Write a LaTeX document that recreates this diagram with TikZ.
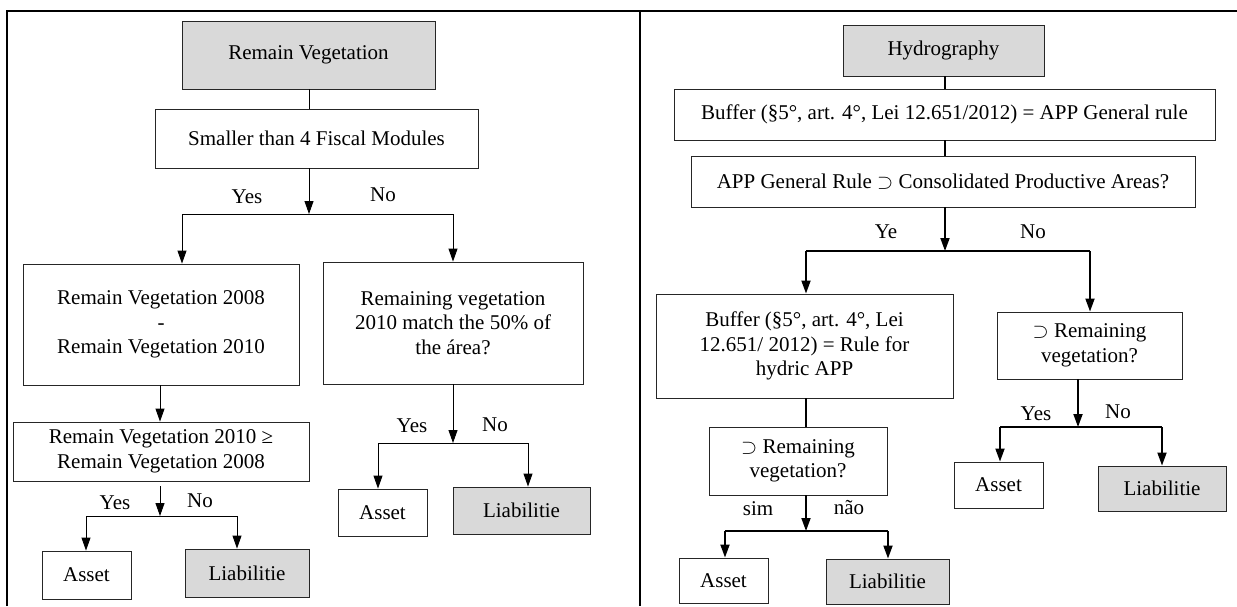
\documentclass[tikz,border=0pt]{standalone}
\usepackage{fontspec}
\setmainfont{Liberation Serif}
\usetikzlibrary{arrows.meta}
\tikzset{
  box/.style={draw=black!85, line width=0.9pt, inner sep=0pt, align=center, fill=white,
    font=\fontsize{21}{24.5}\selectfont},
  gbox/.style={box, fill=gray!30},
  lbl/.style={inner sep=0pt, font=\fontsize{21}{24.5}\selectfont},
  thin/.style={line width=0.9pt},
  thick2/.style={line width=1.8pt},
  arr/.style={-{Triangle[length=13pt,width=9pt]}},
  frame/.style={line width=2pt}
}
\begin{document}
\begin{tikzpicture}[x=1pt,y=-1pt]
\useasboundingbox (0,0) rectangle (1237,606);
% frame
\coordinate (ftl) at (7,11);
\coordinate (ftr) at (1237,11);
\coordinate (fbl) at (7,606);
\coordinate (fdt) at (640,11);
\coordinate (fdb) at (640,606);
\draw[frame] (fbl) -- (ftl) -- (ftr);
\draw[frame] (fdt) -- (fdb);

% ---------------- left panel ----------------
\node[gbox, minimum width=253pt, minimum height=68pt] (rv) at (308.5,55) {Remain Vegetation};
\node[box, minimum width=323pt, minimum height=59pt] (sm) at (316.5,138.5) {Smaller than 4 Fiscal Modules};
\node[box, minimum width=276pt, minimum height=121pt] (a) at (161,324.5) {Remain Vegetation 2008\\-\\Remain Vegetation 2010};
\node[box, minimum width=260pt, minimum height=122pt] (b) at (453,323) {Remaining vegetation\\2010 match the 50\% of\\the área?};
\node[box, minimum width=296pt, minimum height=59pt] (c) at (161,451.5) {Remain Vegetation 2010 ≥\\Remain Vegetation 2008};
\node[box, minimum width=89pt, minimum height=48pt] (as1) at (86.5,575) {Asset};
\node[gbox, minimum width=124pt, minimum height=48pt] (li1) at (247,573) {Liabilitie};
\node[box, minimum width=89pt, minimum height=47pt] (as2) at (382.5,512.5) {Asset};
\node[gbox, minimum width=137pt, minimum height=47pt] (li2) at (521.5,510.5) {Liabilitie};

\coordinate (j1) at (309,214);
\coordinate (j1l) at (182,214);
\coordinate (j1r) at (453,214);
\draw[thin] (rv.south -| j1) -- (sm.north -| j1);
\draw[thin, arr] (sm.south -| j1) -- (j1);
\draw[thin] (j1l) -- (j1r);
\draw[thin, arr] (j1l) -- (a.north -| j1l);
\draw[thin, arr] (j1r) -- (b.north -| j1r);
\node[lbl] (y1) at (247,197) {Yes};
\node[lbl] (n1) at (383,195) {No};

\coordinate (j2) at (160,516);
\coordinate (j2l) at (86,516);
\coordinate (j2r) at (237,516);
\draw[thin, arr] (a.south -| j2) -- (c.north -| j2);
\draw[thin, arr, shorten <=5pt] (c.south -| j2) -- (j2);
\draw[thin] (j2l) -- (j2r);
\draw[thin, arr] (j2l) -- (as1.north -| j2l);
\draw[thin, arr] (j2r) -- (li1.north -| j2r);
\node[lbl] (y2) at (115,503) {Yes};
\node[lbl] (n2) at (200,501) {No};

\coordinate (j3) at (453,443);
\coordinate (j3l) at (378,443);
\coordinate (j3r) at (528,443);
\draw[thin, arr] (b.south -| j3) -- (j3);
\draw[thin] (j3l) -- (j3r);
\draw[thin, arr] (j3l) -- (as2.north -| j3l);
\draw[thin, arr] (j3r) -- (li2.north -| j3r);
\node[lbl] (y3) at (412,426) {Yes};
\node[lbl] (n3) at (495,425) {No};

% ---------------- right panel ----------------
\node[gbox, minimum width=201pt, minimum height=51pt] (hy) at (943.5,50.5) {Hydrography};
\node[box, minimum width=541pt, minimum height=51pt] (buf) at (944.5,114.5) {Buffer (§5°, art. 4°, Lei 12.651/2012) = APP General rule};
\node[box, minimum width=504pt, minimum height=51pt] (app) at (943,181.5) {APP General Rule $\supset$ Consolidated Productive Areas?};
\node[box, minimum width=297pt, minimum height=104pt] (rule) at (804.5,346) {Buffer (§5°, art. 4°, Lei\\12.651/ 2012) = Rule for\\hydric APP};
\node[box, minimum width=185pt, minimum height=67pt] (r1) at (1089.5,345.5) {$\supset$ Remaining\\vegetation?};
\node[box, minimum width=89pt, minimum height=46pt] (as3) at (998.5,485) {Asset};
\node[gbox, minimum width=128pt, minimum height=45pt] (li3) at (1162,488.5) {Liabilitie};
\node[box, minimum width=178pt, minimum height=68pt] (r2) at (798,461) {$\supset$ Remaining\\vegetation?};
\node[box, minimum width=89pt, minimum height=45pt] (as4) at (723.5,580.5) {Asset};
\node[gbox, minimum width=123pt, minimum height=45pt] (li4) at (887.5,581.5) {Liabilitie};

\coordinate (k1) at (945,251);
\coordinate (k1l) at (806,251);
\coordinate (k1r) at (1090,251);
\draw[thick2] (hy.south -| k1) -- (buf.north -| k1);
\draw[thick2] (buf.south -| k1) -- (app.north -| k1);
\draw[thick2, arr] (app.south -| k1) -- (k1);
\draw[thick2] (k1l) -- (k1r);
\draw[thick2, arr] (k1l) -- (rule.north -| k1l);
\draw[thick2, arr] (k1r) -- (r1.north -| k1r);
\node[lbl] (y4) at (886,232) {Ye};
\node[lbl] (n4) at (1033,232) {No};

\coordinate (k2) at (1078,427);
\coordinate (k2l) at (1000,427);
\coordinate (k2r) at (1162,427);
\draw[thick2, arr] (r1.south -| k2) -- (k2);
\draw[thick2] (k2l) -- (k2r);
\draw[thick2, arr] (k2l) -- (as3.north -| k2l);
\draw[thick2, arr] (k2r) -- (li3.north -| k2r);
\node[lbl] (y5) at (1036,414) {Yes};
\node[lbl] (n5) at (1118,412) {No};

\coordinate (k3) at (806,531);
\coordinate (k3l) at (725,531);
\coordinate (k3r) at (888,531);
\draw[thick2] (rule.south -| k3) -- (r2.north -| k3);
\draw[thick2, arr] (r2.south -| k3) -- (k3);
\draw[thick2] (k3l) -- (k3r);
\draw[thick2, arr] (k3l) -- (as4.north -| k3l);
\draw[thick2, arr] (k3r) -- (li4.north -| k3r);
\node[lbl] (y6) at (758,509) {sim};
\node[lbl] (n6) at (849,508) {não};
\end{tikzpicture}
\end{document}
